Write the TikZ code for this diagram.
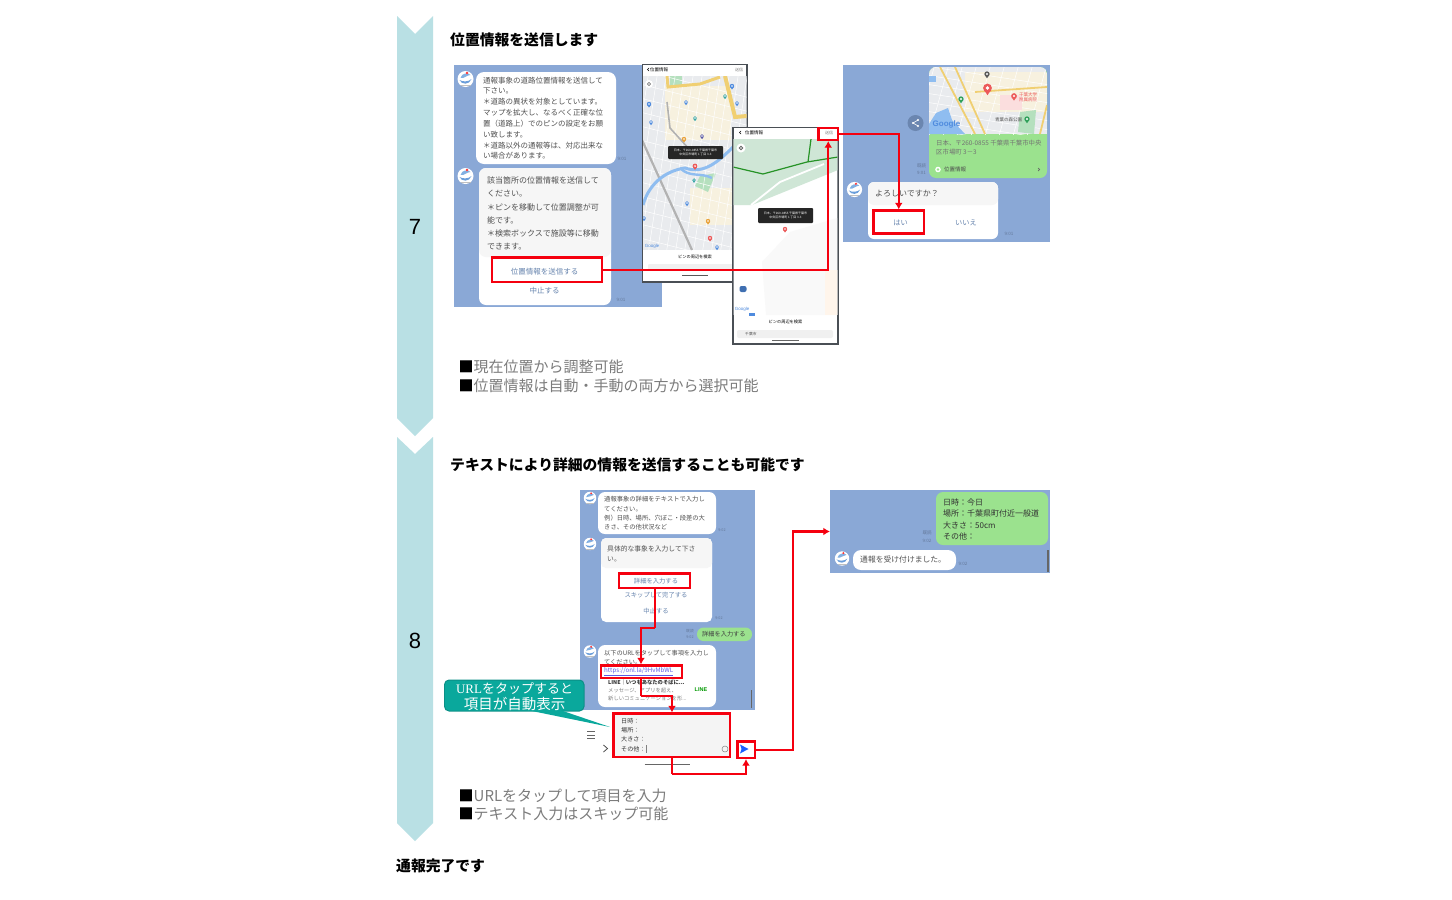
\documentclass[tikz,border=0pt]{standalone}
\usepackage{fontspec}
\setmainfont{Noto Sans CJK JP}
\newfontfamily\latinsans{Liberation Sans}
\newfontfamily\latinserif{Liberation Serif}
\usetikzlibrary{fit,arrows.meta,calc}
\definecolor{chev}{HTML}{B9E0E4}
\definecolor{panelblue}{HTML}{8AA8D6}
\definecolor{greybub}{HTML}{F6F6F6}
\definecolor{linegreen}{HTML}{9BE28E}
\definecolor{btntext}{HTML}{6583AD}
\definecolor{bubtext}{HTML}{505050}
\definecolor{stamp}{HTML}{64799B}
\definecolor{redline}{HTML}{F5000F}
\definecolor{teal}{HTML}{0AA89C}
\definecolor{tealdk}{HTML}{0B8F86}
\definecolor{graytext}{HTML}{7C7C7C}
\definecolor{mapbg}{HTML}{E9EBEE}
\definecolor{mapbeige}{HTML}{F7F1DF}
\definecolor{mapyel}{HTML}{F0CF72}
\definecolor{mapblue}{HTML}{8FBDF0}
\definecolor{mapgreen}{HTML}{CFE6D6}
\definecolor{parkgreen}{HTML}{B5E0BE}
\definecolor{sharegrey}{HTML}{6B86B0}
\definecolor{pinblue}{HTML}{4F8BDE}
\definecolor{pinred}{HTML}{EC5A5A}
\definecolor{pingreen}{HTML}{2FA05A}
\definecolor{pinorange}{HTML}{E9A23A}
\definecolor{pinteal}{HTML}{3AA6A6}
\definecolor{phoneedge}{HTML}{4A4F55}
\tikzset{
  x=1pt,y=-1pt,
  panel/.style={fill=panelblue,draw=none,inner sep=0pt},
  redbox/.style={draw=redline,line width=2.4pt,inner sep=0pt},
  phone/.style={draw=phoneedge,line width=1.2pt,fill=white,inner sep=0pt},
  txt/.style={inner sep=0pt,anchor=west,text=bubtext,font=\fontsize{#1}{#1}\selectfont},
  txt/.default=7.5,
  ctxt/.style={inner sep=0pt,anchor=center,text=btntext,font=\fontsize{#1}{#1}\selectfont},
  ctxt/.default=7,
  stamptxt/.style={inner sep=0pt,anchor=center,text=stamp,font=\fontsize{4.5}{4.5}\selectfont},
  tiptxt/.style={inner sep=0pt,anchor=center,align=center,text=white,font=\fontsize{3}{4.2}\selectfont},
  heading/.style={inner sep=0pt,anchor=west,text=black,font=\fontsize{14.8}{14.8}\selectfont\bfseries},
  bullet/.style={inner sep=0pt,anchor=west,text=graytext,font=\fontsize{15}{15}\selectfont},
  stepnum/.style={inner sep=0pt,anchor=center,text=black,font=\latinsans\fontsize{22}{22}\selectfont},
  redarrow/.style={draw=redline,line width=2.4pt,-{Latex[length=6.5pt,width=8pt]}},
  redplain/.style={draw=redline,line width=2.4pt},
}
% avatar icon
\newcommand\lineavatar[3]{%
  \begin{scope}[shift={(#1,#2)},scale=#3]
    \fill[white] (0,0) circle (8);
    \fill[cyan!55!blue!60] (-6,1) .. controls (-4,6) and (4,6) .. (6,0) .. controls (3,3) and (-3,3) .. (-6,1);
    \fill[cyan!60!blue!50] (-5,-1) .. controls (-4,-6) and (3,-7) .. (5,-4) .. controls (1,-4) and (-1,0) .. (-5,-1);
    \fill[red!80] (1.5,-6) circle (1.3);
    \fill[gray!50] (-5,6) rectangle (5,7);
  \end{scope}}
% map pin
\newcommand\mpin[4]{%
  \begin{scope}[shift={(#2,#3)},scale=#4]
    \fill[#1] (-1.9,.8) -- (0,3.6) -- (1.9,.8) -- cycle;
    \fill[#1] (0,0) circle (2.2);
    \fill[white] (0,0) circle (.9);
  \end{scope}}
\begin{document}
\begin{tikzpicture}
\useasboundingbox (0,0) rectangle (1452,900);
\fill[white] (0,0) rectangle (1452,900);
% ---- step chevrons
\fill[chev] (397,16) -- (415,34) -- (433,16) -- (433,418) -- (415,436) -- (397,418) -- cycle;
\fill[chev] (397,437) -- (415,454) -- (433,437) -- (433,823) -- (415,841) -- (397,823) -- cycle;
\node[stepnum] (n7) at (415,227) {7};
\node[stepnum] (n8) at (415,641) {8};
% ---- headings
\node[heading] (h7) at (450,40) {位置情報を送信します};
\node[heading] (h8) at (450,465) {テキストにより詳細の情報を送信することも可能です};
\node[heading] (hend) at (396,865.5) {通報完了です};
% ---- bullets
\node[bullet] (b1) at (458.5,367) {{\color{black}■}現在位置から調整可能};
\node[bullet] (b2) at (458.5,385.5) {{\color{black}■}位置情報は自動・手動の両方から選択可能};
\node[bullet] (b3) at (458.5,795.5) {{\color{black}■}URLをタップして項目を入力};
\node[bullet] (b4) at (458.5,813.5) {{\color{black}■}テキスト入力はスキップ可能};

% ======== panel A
\fill[panelblue] (454,65) rectangle (662,307);
\fill[white,rounded corners=8pt] (476,72) rectangle (616,164);
\lineavatar{465.5}{79}{1}
\node[txt] (a1) at (483,80.5) {通報事象の道路位置情報を送信して};
\node[txt] (a2) at (483,91) {下さい。};
\node[txt] (a3) at (483,102) {＊道路の異状を対象としています。};
\node[txt] (a4) at (483,113) {マップを拡大し、なるべく正確な位};
\node[txt] (a5) at (483,123.5) {置（道路上）でのピンの設定をお願};
\node[txt] (a6) at (483,134.5) {い致します。};
\node[txt] (a7) at (483,145.5) {＊道路以外の通報等は、対応出来な};
\node[txt] (a8) at (483,156) {い場合があります。};
\node[stamptxt] (a9) at (622,159) {9:01};
\lineavatar{465.5}{176}{1}
\fill[white,rounded corners=7pt] (479,168) rectangle (611,305);
\fill[greybub,rounded corners=7pt] (479,168) -- (611,168) -- (611,257) -- (479,257) -- cycle;
\node[txt=8] (a10) at (487,180) {該当箇所の位置情報を送信して};
\node[txt=8] (a11) at (487,193.5) {ください。};
\node[txt=8] (a12) at (487,207) {＊ピンを移動して位置調整が可};
\node[txt=8] (a13) at (487,220) {能です。};
\node[txt=8] (a14) at (487,233.5) {＊検索ボックスで施設等に移動};
\node[txt=8] (a15) at (487,246.5) {できます。};
\node[ctxt=7.5] (a16) at (544.5,272) {位置情報を送信する};
\node[ctxt=7.5] (a17) at (544.5,291) {中止する};
\node[stamptxt] (a18) at (621,300) {9:01};

% ======== phone 1
\draw[phone] (642.5,64.5) rectangle (747,282);
\begin{scope}
  \clip (643,76) rectangle (746.5,250);
  \fill[mapbg] (643,76) rectangle (747,250);
  \fill[mapbeige] (665,86) rectangle (731,140);
  \fill[mapbeige] (690,188) rectangle (740,225);
  \fill[parkgreen] (670,76) rectangle (682,87);
  \fill[parkgreen] (700,176) -- (716,173) -- (708,192) -- (695,186) -- cycle;
  \foreach \k in {0,...,14} {
    \draw[white,line width=.5pt] (640,{70+\k*14}) -- (750,{98+\k*14});
    \draw[white,line width=.5pt] ({640+\k*9},70) -- ({612+\k*9},255);
  }
  \draw[mapyel,line width=3pt] (667,76) -- (668,87) -- (700,84) -- (720,77);
  \draw[mapyel,line width=4pt] (725,76) -- (735,117) -- (747,116);
  \draw[gray!60,line width=1.6pt] (667,102) -- (670,128) -- (690,150);
  \draw[gray!60,line width=2.2pt] (642,140) -- (692,250);
  \draw[mapblue,line width=3pt] (643,205) .. controls (650,180) and (670,170) .. (685,168) .. controls (705,175) and (720,160) .. (735,145);
  \draw[mapblue,line width=2.4pt] (680,168) .. controls (690,178) and (700,172) .. (712,178);
  \mpin{pinblue}{732}{86}{1}
  \mpin{pinblue}{649}{104}{1}
  \mpin{pinblue}{686}{102}{.9}
  \mpin{pinteal}{725}{96}{.9}
  \mpin{pinblue}{737}{103}{.9}
  \mpin{pinteal}{695}{118}{.9}
  \mpin{pinblue}{651}{122}{.9}
  \mpin{pinorange}{684}{139}{1}
  \mpin{gray!70!blue}{702}{136}{.9}
  \mpin{pinblue}{687}{203}{.9}
  \mpin{pinteal}{694}{180}{.8}
  \mpin{pinorange}{708}{221}{1}
  \mpin{pinred}{710}{238}{1}
  \mpin{pinblue}{717}{247}{.9}
  \mpin{pinblue}{644}{218}{.9}
  \fill[black!85,rounded corners=1pt] (668,146) rectangle (723,159);
  \node[tiptxt] (tip1) at (695.5,152.5) {日本、〒260-0855 千葉県千葉市\\中央区市場町 1 丁目 3-3};
  \mpin{pinred}{695}{166}{1.1}
\end{scope}
\node[inner sep=0pt,font=\latinsans\fontsize{4.5}{4.5}\selectfont,text=pinblue] (p1g) at (652,246) {Google};
\node[inner sep=0pt,text=black,font=\fontsize{4.5}{4.5}\selectfont] (p1t) at (659,69.5) {位置情報};
\node[inner sep=0pt,text=gray,font=\fontsize{4}{4}\selectfont] (p1s) at (739,69.5) {送信};
\draw[black,line width=.6pt] (649,68) -- (647.5,69.5) -- (649,71);
\fill[white] (649,84) circle (4);
\draw[gray,line width=.7pt] (649,84) circle (1.6);
\node[inner sep=0pt,text=black,font=\fontsize{4.2}{4.2}\selectfont] (p1b) at (695,257) {ピンの周辺を検索};
\fill[gray!12,rounded corners=1pt] (648,264) rectangle (741,270);
\draw[gray!70!black,line width=.9pt] (682,275.5) -- (708,275.5);

% ======== phone 2
\draw[phone] (733,127.5) rectangle (838,344);
\begin{scope}
  \clip (733.6,139) rectangle (837.4,315);
  \fill[white] (733,139) rectangle (838,315);
  \fill[gray!5] (762,262) -- (790,232) -- (837,218) -- (837,315) -- (766,315) -- cycle;
  \fill[orange!8] (825,270) rectangle (838,315);
  \fill[mapgreen] (733,139) -- (838,139) -- (838,170) -- (752,205) -- (733,205) -- cycle;
  \draw[white,line width=1.8pt] (751,205) -- (780,182) -- (824,164);
  \draw[green!50!black!85,line width=1.2pt] (733,167) -- (763,174) -- (807,162) -- (838,157);
  \draw[green!50!black!85,line width=1.2pt] (811,139) -- (808,162);
  \fill[black!85,rounded corners=1pt] (758,208) rectangle (813,223);
  \node[tiptxt] (tip2) at (785.5,215.5) {日本、〒260-0855 千葉県千葉市\\中央区市場町 1 丁目 3-3};
  \mpin{pinred}{785}{229}{1}
  \fill[pinblue!80!black,rounded corners=2pt] (739.5,286) rectangle (746.5,292);
  \fill[pinblue] (749,313) rectangle (755,316);
\end{scope}
\fill[white] (741,148) circle (4.5);
\draw[gray!80!black,line width=.8pt] (741,148) circle (1.8);
\draw[black,line width=.6pt] (741,131) -- (739.5,132.5) -- (741,134);
\node[inner sep=0pt,text=black,font=\fontsize{4.5}{4.5}\selectfont] (p2t) at (754,132.8) {位置情報};
\node[inner sep=0pt,text=gray,font=\fontsize{4}{4}\selectfont] (p2s) at (829,133) {送信};
\node[inner sep=0pt,font=\latinsans\fontsize{4.5}{4.5}\selectfont,text=pinblue] (p2g) at (742,309.5) {Google};
\node[inner sep=0pt,text=black,font=\fontsize{4.2}{4.2}\selectfont] (p2b) at (785.5,322) {ピンの周辺を検索};
\fill[gray!12,rounded corners=2pt] (737,330) rectangle (833,338);
\node[txt=3.8] (p2q) at (745,333.8) {千葉市};
\draw[gray!80!black,line width=.9pt] (772,340.3) -- (799,340.3);

% ======== panel B
\fill[panelblue] (843,65) rectangle (1050,242);
\fill[linegreen,rounded corners=7pt] (929,67) rectangle (1047,178);
\begin{scope}
  \clip[rounded corners=7pt] (929,67) -- (1047,67) -- (1047,134) -- (1047,150) -- (929,150) -- (929,134) -- cycle;
  \clip (929,67) rectangle (1047,134);
  \fill[mapbg] (929,67) rectangle (1047,134);
  \fill[mapbeige] (965,72) rectangle (1047,112);
  \foreach \k in {0,...,8} {
    \draw[white,line width=.5pt] (925,{66+\k*9}) -- (1050,{85+\k*9});
    \draw[white,line width=.5pt] ({935+\k*14},64) -- ({915+\k*14},136);
  }
  \fill[mapblue] (929,124) -- (936,113) -- (948,108) -- (952,120) -- (965,134) -- (929,134) -- cycle;
  \fill[mapblue] (929,76) rectangle (936,82);
  \fill[parkgreen] (1020,112) -- (1036,110) -- (1034,134) -- (1018,132) -- cycle;
  \fill[pinred!20] (1000,95) rectangle (1022,110);
  \draw[mapyel,line width=1.8pt] (940,67) -- (975,134);
  \draw[mapyel,line width=1.8pt] (955,67) -- (985,134);
  \draw[mapyel,line width=1.8pt] (975,92) -- (1047,87);
  \draw[mapyel,line width=1.8pt] (1047,105) -- (1040,134);
  \mpin{pingreen}{961}{99}{1.2}
  \mpin{pinred}{1014}{96}{1.3}
  \mpin{pingreen}{1027}{119}{1.2}
  \mpin{gray!70!black}{987}{74}{1.2}
  \mpin{pinred}{987.5}{88}{2}
  \node[inner sep=0pt,font=\latinsans\bfseries\fontsize{8}{8}\selectfont,text=pinblue] (gg) at (946.5,124.5) {Google};
  \node[txt=4.5,text=pinred] (mt1) at (1019,94.5) {千葉大学};
  \node[txt=4.5,text=pinred] (mt2) at (1019,100) {附属病院};
  \node[txt=4.5] (mt3) at (995,119.5) {青葉の森公園};
\end{scope}
\fill[sharegrey] (915.5,123) circle (8);
\draw[white,line width=.6pt] (918,120) -- (913,123) -- (918,126);
\fill[white] (918,120) circle (1.2) (913,123) circle (1.2) (918,126) circle (1.2);
\node[txt=6.4,text=black!55] (pb1) at (936,143) {日本、〒260-0855 千葉県千葉市中央};
\node[txt=6.4,text=black!55] (pb2) at (936,152) {区市場町 3－3};
\fill[white] (938,169.5) circle (2.8);
\fill[linegreen] (938,169.5) circle (1.3);
\node[txt=5.5,text=black!70] (pb3) at (944,169.5) {位置情報};
\draw[black!60,line width=.7pt] (1038,168) -- (1039.5,169.5) -- (1038,171);
\node[stamptxt] (pb4) at (921.5,165.5) {既読};
\node[stamptxt] (pb5) at (921.5,172.5) {9:01};
\lineavatar{854.5}{189.5}{.95}
\fill[white,rounded corners=6pt] (868,182) rectangle (998,239);
\fill[greybub,rounded corners=6pt] (868,182) -- (998,182) -- (998,205) -- (868,205) -- cycle;
\node[txt=8] (pb6) at (875,194) {よろしいですか？};
\node[ctxt=7.2] (pb7) at (900.5,222.5) {はい};
\node[ctxt=7.2] (pb8) at (966,222.5) {いいえ};
\node[stamptxt] (pb9) at (1009,233.5) {9:01};

% ---- red boxes of step 7 and connectors
\node[redbox,fit={(492,257.5)(602,282)}] (send) {};
\node[redbox,fit={(818.5,128)(838,140)}] (use) {};
\node[redbox,fit={(873.5,210.5)(924,233.5)}] (yes) {};
\draw[redarrow] (send.east) -| (use.south);
\draw[redarrow] (use.east) -| (yes.north);

% ======== panel C
\fill[panelblue] (580,490) rectangle (755,710);
\lineavatar{590}{498}{.78}
\fill[white,rounded corners=7pt] (598,492) rectangle (716,534);
\node[txt=6.3] (c1) at (604,499.5) {通報事象の詳細をテキストで入力し};
\node[txt=6.3] (c2) at (604,509) {てください。};
\node[txt=6.3] (c3) at (604,518) {例）日時、場所、穴ぼこ・段差の大};
\node[txt=6.3] (c4) at (604,527) {きさ、その他状況など};
\node[stamptxt,font=\fontsize{3.8}{3.8}\selectfont] (c5) at (722,530) {9:02};
\lineavatar{590}{544}{.78}
\fill[white,rounded corners=5pt] (601,538) rectangle (712,622);
\fill[greybub,rounded corners=5pt] (601,538) -- (712,538) -- (712,568) -- (601,568) -- cycle;
\node[txt=6.8] (c6) at (607,548.5) {具体的な事象を入力して下さ};
\node[txt=6.8] (c7) at (607,559.5) {い。};
\node[ctxt=6.3] (c8) at (656,581) {詳細を入力する};
\node[ctxt=6.3] (c9) at (656,595) {スキップして完了する};
\node[ctxt=6.3] (c10) at (656,611) {中止する};
\node[stamptxt,font=\fontsize{3.8}{3.8}\selectfont] (c11) at (719,618) {9:02};
\fill[linegreen,rounded corners=6.5pt] (697,627.5) rectangle (752,641);
\node[txt=6.2,text=black!75] (c12) at (702,634) {詳細を入力する};
\node[stamptxt,font=\fontsize{3.8}{3.8}\selectfont] (c13) at (690,631) {既読};
\node[stamptxt,font=\fontsize{3.8}{3.8}\selectfont] (c14) at (690,637) {9:02};
\lineavatar{590}{651.5}{.78}
\fill[white,rounded corners=7pt] (598,645) rectangle (716,707);
\node[txt=6.2] (c15) at (604,653) {以下のURLをタップして事項を入力し};
\node[txt=6.2] (c16) at (604,662) {てください。};
\node[txt=6.2,text=blue!60!white!90!black] (c17) at (604,671.5) {\underline{https://onl.la/9HvMbWL}};
\node[txt=5.3,text=black!80] (c18) at (608,682.5) {\bfseries LINE｜いつもあなたのそばに...};
\node[txt=5.3,text=gray] (c19) at (608,690.5) {メッセージ、アプリを超え、};
\node[txt=5.3,text=gray] (c20) at (608,698.5) {新しいコミュニケーションを形...};
\node[inner sep=0pt,text=green!60!black,font=\latinsans\bfseries\fontsize{5.5}{5.5}\selectfont] (c21) at (701,689.5) {LINE};
\draw[gray!80!black,line width=1.1pt] (751.5,690) -- (751.5,708);

% ---- message input area
\fill[gray!9] (613,713) rectangle (730,757);
\node[txt=6.1,text=black!80] (d1) at (621,721.5) {日時：};
\node[txt=6.1,text=black!80] (d2) at (621,730.5) {場所：};
\node[txt=6.1,text=black!80] (d3) at (621,739.5) {大きさ：};
\node[txt=6.1,text=black!80] (d4) at (621,749) {その他：};
\draw[gray,line width=.5pt] (646,745) -- (646,753);
\draw[gray,line width=.5pt] (725,749) circle (3);
\draw[gray!80!black,line width=.9pt] (587,731.5) -- (595,731.5) (587,735) -- (595,735) (587,738.5) -- (595,738.5);
\draw[black!70,line width=.8pt] (603.5,745) -- (607.5,748.5) -- (603.5,752);
\fill[blue!70!cyan!90] (740,744.5) -- (748.5,749) -- (740,753.5) -- (741.5,749) -- cycle;
\draw[gray!80!black,line width=1.1pt] (644.5,764.5) -- (690,764.5);

% ---- callout
\fill[tealdk,rounded corners=5pt] (444,679.5) rectangle (584.5,711.5);
\fill[teal,rounded corners=4.5pt] (445,680.5) rectangle (583.5,710.5);
\fill[teal] (527,710) -- (610,727) -- (560,710) -- cycle;
\node[inner sep=0pt,anchor=center,text=white,align=center,font=\fontsize{14.5}{16}\selectfont] (callout) at (514.5,696.3) {{\fontsize{13}{16}\selectfont{\latinserif URL}をタップすると}\\項目が自動表示};

% ---- red boxes of step 8 and connectors
\node[redbox,fit={(619,573.5)(690,588)}] (detail) {};
\node[redbox,fit={(601,665.5)(682,678)}] (url) {};
\node[redbox,fit={(613.5,713.5)(730,757)}] (input) {};
\node[redbox,fit={(737.5,741.5)(755,758)}] (sendbtn) {};
\coordinate (j1) at (655,628);
\coordinate (j2) at (641,628);
\coordinate (j3) at (641,696);
\coordinate (j4) at (672,696);
\coordinate (j6) at (672,774);
\coordinate (j7) at (746,774);
\draw[redplain] (detail.south -| j1) -- (j1);
\draw[redarrow] (j1) -- (j2) -- (j2 |- url.north);
\draw[redplain] (j2 |- url.south) -- (j3);
\draw[redarrow] (j3) -- (j4) -- (j4 |- input.north);
\draw[redplain] (j6 |- input.south) -- (j6);
\draw[redarrow] (j6) -- (j7) -- (j7 |- sendbtn.south);

% ======== panel D
\node[panel,fit={(830,490)(1050,573)}] (panelD) {};
\draw[redarrow] (sendbtn.east) -- ++(37,0) |- (panelD.west);
\fill[linegreen,rounded corners=7pt] (936,492) rectangle (1048,545);
\node[txt=8,text=black!80] (e1) at (943,502) {日時：今日};
\node[txt=8,text=black!80] (e2) at (943,513.5) {場所：千葉県町付近一般道};
\node[txt=8,text=black!80] (e3) at (943,525) {大きさ：50cm};
\node[txt=8,text=black!80] (e4) at (943,536) {その他：};
\node[stamptxt] (e5) at (927,533) {既読};
\node[stamptxt] (e6) at (927,540.5) {9:02};
\lineavatar{842}{558.5}{.9}
\fill[white,rounded corners=8pt] (853,550) rectangle (956,570);
\node[txt=7.8] (e7) at (860,560) {通報を受け付けました。};
\node[stamptxt] (e8) at (963,564) {9:02};
\draw[gray!80!black,line width=1.1pt] (1048,550) -- (1048,572);
\end{tikzpicture}
\end{document}
